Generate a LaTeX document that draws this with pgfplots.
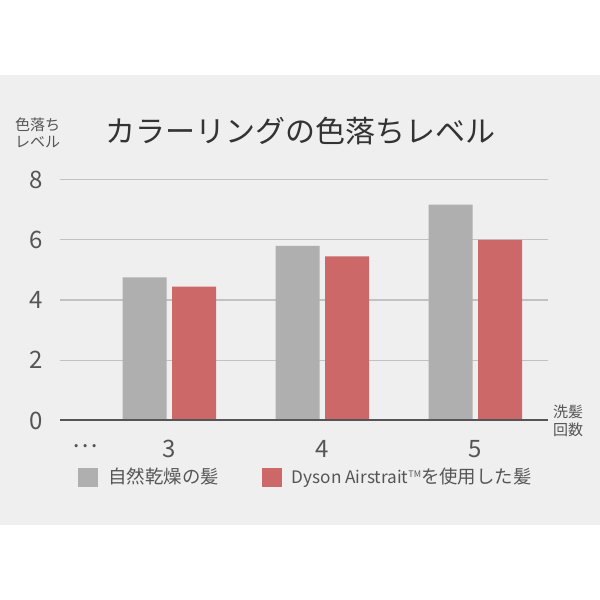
\documentclass[border=0pt]{standalone}
\usepackage{fontspec}
\setmainfont{Noto Sans CJK JP}
\usepackage{pgfplots}
\pgfplotsset{compat=1.18}
\definecolor{panel}{HTML}{EFEFEF}
\definecolor{barGrey}{HTML}{AFAFB0}
\definecolor{barRed}{HTML}{CD6868}
\definecolor{gridGrey}{HTML}{C2C2C2}
\definecolor{txtDark}{HTML}{333333}
\definecolor{txtMid}{HTML}{555555}

\begin{document}
\begin{tikzpicture}[x=1pt,y=1pt]
\fill[white] (0,0) rectangle (300,300);
\useasboundingbox (0,0) rectangle (300,300);
\fill[panel] (0,37.5) rectangle (300,262.5);
% titles and side labels
\node[txtDark, font=\fontsize{15}{18}\selectfont] at (150,234.5) {カラーリングの色落ちレベル};
\node[txtMid, font=\fontsize{7.5}{8.25}\selectfont, align=center, inner sep=0pt] at (18.75,233.5) {色落ち\\レベル};
\node[txtMid, font=\fontsize{7.5}{9}\selectfont, align=center, inner sep=0pt] at (284,89.5) {洗髪\\回数};
\node[txtMid, font=\fontsize{12}{14}\selectfont, inner sep=0pt] at (42.75,77) {…};

\begin{axis}[
  at={(30pt,89.75pt)}, anchor=south west, scale only axis,
  width=244pt, height=120.5pt,
  xmin=2.286, xmax=5.474, ymin=0, ymax=8,
  ybar=2.75pt, bar width=22pt,
  xtick={3,4,5}, ytick={0,2,4,6,8},
  axis line style={draw=none}, tick style={draw=none},
  ymajorgrids, grid style={gridGrey, line width=0.65pt},
  /pgf/number format/assume math mode=true,
  ticklabel style={txtMid, font=\fontsize{12}{14}\selectfont},
  yticklabel style={xshift=-5pt},
  xticklabel style={yshift=-2pt},
  legend columns=2,
  legend style={at={(0.0369,-0.2365)}, anchor=west, draw=none, fill=none,
    inner sep=0pt, font=\fontsize{9.2}{10}\selectfont, text=txtMid,
    /tikz/every odd column/.append style={column sep=3pt},
    /tikz/every even column/.append style={column sep=19.5pt}},
  legend image code/.code={\fill[#1] (0pt,-4.75pt) rectangle (10pt,4.75pt);},
]
\addplot[fill=barGrey, draw=none] coordinates {(3,4.75) (4,5.80) (5,7.17)};
\addplot[fill=barRed, draw=none] coordinates {(3,4.44) (4,5.45) (5,6.00)};
\legend{自然乾燥の髪, {\fontsize{8.6}{10}\selectfont Dyson Airstrait}\raisebox{3pt}{\fontsize{4.5}{5}\selectfont TM}を使用した髪}
\draw[txtMid, line width=1pt] (axis cs:2.286,0) -- (axis cs:5.474,0);
\end{axis}
\end{tikzpicture}
\end{document}
